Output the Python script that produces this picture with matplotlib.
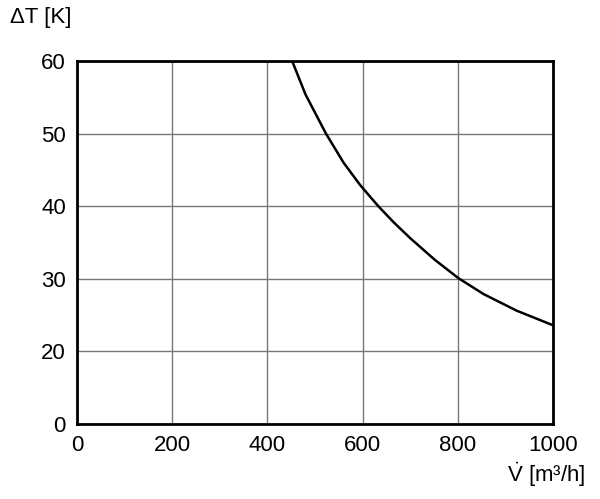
import numpy as np
import matplotlib.pyplot as plt

volumen = [452, 480, 523, 560, 595, 633, 665, 700, 752, 801, 854, 924, 1000]
delta_t = [60, 55.4, 50, 46.0, 42.9, 40, 37.8, 35.6, 32.6, 30.1, 27.9, 25.6, 23.6]

x_ticks = [0, 200, 400, 600, 800, 1000]
# die untere Achse ist mit 0 beschriftet, sitzt aber im Raster bei 10
y_ticks = [10, 20, 30, 40, 50, 60]
y_labels = ['0', '20', '30', '40', '50', '60']

plt.rcParams['font.family'] = ['Liberation Sans', 'DejaVu Sans']
plt.rcParams['mathtext.fontset'] = 'custom'
plt.rcParams['mathtext.rm'] = 'Liberation Sans'

fig = plt.figure(figsize=(6, 4.99), dpi=100)
ax = fig.add_axes([77/600, 1-424/499, 476/600, 363/499])

ax.plot(volumen, delta_t, color='black', linewidth=1.8)

ax.set_xlim(0, 1000)
ax.set_ylim(10, 60)
ax.set_xticks(x_ticks)
ax.set_yticks(y_ticks)
ax.set_yticklabels(y_labels)
ax.grid(True, color='#777777', linewidth=1.0)
ax.tick_params(length=0, labelsize=16, pad=8)
for s in ax.spines.values():
    s.set_linewidth(2)

fig.text(10/600, 1-18/499, '\u0394T [K]', fontsize=16, va='center', ha='left')
fig.text(585/600, 1-475/499, r'$\dot{\mathrm{V}}$' + ' [m\u00b3/h]', fontsize=16, va='center', ha='right')

fig.savefig('out.png', dpi=100)
